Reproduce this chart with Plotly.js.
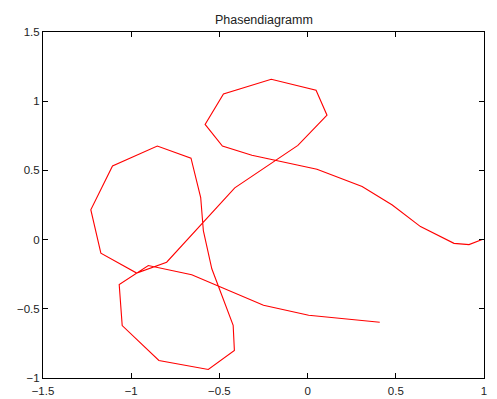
<!DOCTYPE html>
<html>
<head>
<meta charset="utf-8">
<script src="https://cdn.plot.ly/plotly-3.0.1.min.js"></script>
<style>html,body{margin:0;padding:0;background:#fff;}#chart{width:497px;height:399px;}</style>
</head>
<body>
<div id="chart"></div>
<script>
var xValues = [0.409, 0.006, -0.25, -0.657, -0.903, -1.068, -1.051, -0.843, -0.563, -0.415, -0.422, -0.543, -0.591, -0.606, -0.661, -0.852, -1.106, -1.229, -1.172, -0.969, -0.799, -0.682, -0.413, -0.055, 0.110, 0.048, -0.206, -0.477, -0.581, -0.483, -0.316, 0.053, 0.309, 0.48, 0.640, 0.830, 0.915, 0.99];
var yValues = [-0.597, -0.547, -0.475, -0.254, -0.187, -0.324, -0.621, -0.873, -0.938, -0.801, -0.619, -0.211, 0.065, 0.304, 0.588, 0.676, 0.532, 0.216, -0.098, -0.242, -0.163, 0.0, 0.374, 0.681, 0.899, 1.079, 1.158, 1.053, 0.832, 0.676, 0.609, 0.508, 0.383, 0.25, 0.094, -0.027, -0.036, 0.0];
var xTicks = [-1.5, -1, -0.5, 0, 0.5, 1];
var yTicks = [-1, -0.5, 0, 0.5, 1, 1.5];
var titleText = "Phasendiagramm";

var trace = {
  x: xValues, y: yValues, type: "scatter", mode: "lines",
  line: {color: "#ff0000", width: 1.1}, hoverinfo: "none"
};
var axisCommon = {
  showgrid: false, zeroline: false, showline: true, mirror: "ticks",
  linecolor: "#000", linewidth: 1, ticks: "inside", ticklen: 5, tickcolor: "#000",
  tickfont: {family: "Liberation Sans, Arial, sans-serif", size: 11.5, color: "#222"}
};
var layout = {
  width: 497, height: 399,
  margin: {l: 43, r: 13, t: 32, b: 21, pad: 0},
  paper_bgcolor: "#fff", plot_bgcolor: "#fff",
  showlegend: false,
  title: {text: titleText, x: 0.531, xanchor: "center", y: 0.951, yanchor: "middle",
          font: {family: "Liberation Sans, Arial, sans-serif", size: 12.5, color: "#222"}},
  xaxis: Object.assign({}, axisCommon, {range: [-1.5, 1], tickvals: xTicks, ticklabelstandoff: 2}),
  yaxis: Object.assign({}, axisCommon, {range: [-1, 1.5], tickvals: yTicks})
};
Plotly.newPlot("chart", [trace], layout, {displayModeBar: false, staticPlot: true});
</script>
</body>
</html>
